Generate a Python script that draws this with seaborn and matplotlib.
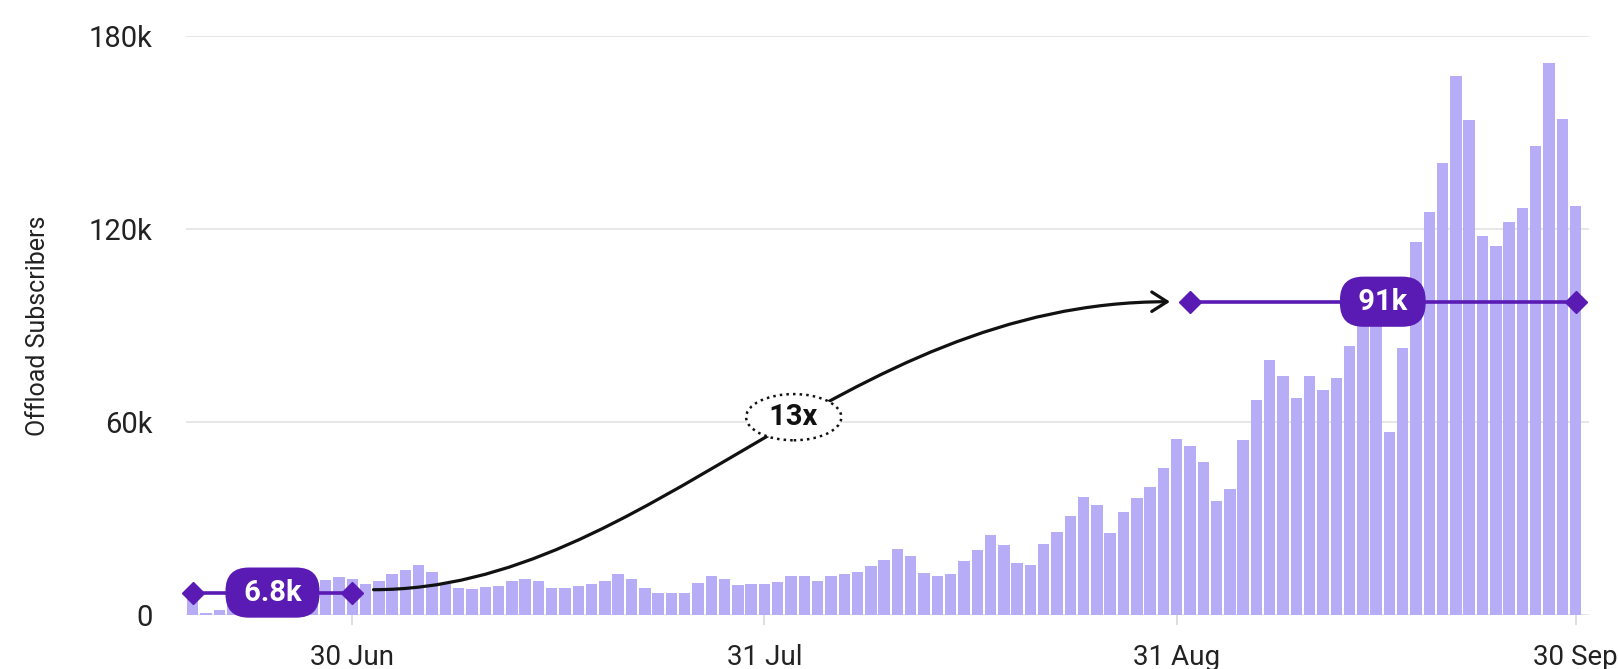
import numpy as np
import pandas as pd
import matplotlib.pyplot as plt
import seaborn as sns
from matplotlib.path import Path
from matplotlib.patches import FancyArrowPatch

# daily offload subscribers, 18 Jun -> 30 Sep (thousands)
start_day = '2024-06-18'
subs_k = [
    6.0, 0.7, 1.6, 3.0, 5.0, 6.0, 7.0, 8.0, 9.0, 10.5, 10.8, 11.8, 11.2,
    9.5, 10.6, 12.6, 14.0, 15.5, 13.5, 9.5, 8.5, 8.0, 8.8, 9.1, 10.5,
    11.2, 10.5, 8.4, 8.3, 8.9, 9.6, 10.7, 12.6, 11.2, 8.3, 6.7, 6.7,
    6.9, 9.8, 12.1, 11.1, 9.2, 9.6, 9.7, 10.4, 12.1, 12.2, 10.7, 12.1,
    12.8, 13.4, 15.1, 17.0, 20.4, 18.2, 13.2, 12.1, 12.8, 16.8, 20.2,
    24.8, 21.7, 16.3, 15.6, 22.0, 25.9, 30.9, 36.6, 34.3, 25.6, 32.0,
    36.4, 39.9, 45.6, 54.6, 52.4, 47.6, 35.5, 39.3, 54.4, 66.9, 79.3,
    74.4, 67.6, 74.4, 70.1, 73.8, 83.5, 90.0, 90.0, 56.9, 82.9, 116.0,
    125.2, 140.4, 167.7, 153.9, 117.8, 114.6, 122.3, 126.5, 145.7,
    171.7, 154.1, 127.0,
]
tick_labels = ['30 Jun', '31 Jul', '31 Aug', '30 Sep']
y_ticks = [0, 60000, 120000, 180000]
y_tick_labels = ['0', '60k', '120k', '180k']

# the two compared periods and their labels
low_span = ('18 Jun', '30 Jun')
high_span = ('01 Sep', '30 Sep')
low_label = '6.8k'
high_label = '91k'
growth_label = '13x'

BAR = '#b7acf6'
PURPLE = '#5a1ab4'
TEXT = '#222222'
GRID = '#e5e5e5'

dates = pd.date_range(start_day, periods=len(subs_k), freq='D')
day_names = list(dates.strftime('%d %b'))
df = pd.DataFrame({'day': np.arange(len(subs_k)), 'subs': np.array(subs_k) * 1000})

sns.set_theme(style='white')
plt.rcParams['font.family'] = ['Roboto', 'DejaVu Sans']

fig = plt.figure(figsize=(16.18, 6.69), dpi=100)
ax = fig.add_axes([0.115, 0.0807, 0.867, 0.8655])

sns.barplot(data=df, x='day', y='subs', color=BAR, saturation=1,
            width=0.86, edgecolor='none', ax=ax, zorder=2)

ax.set_xlim(-0.5, len(subs_k))
ax.set_ylim(0, 180000)
ax.set_yticks(y_ticks, y_tick_labels)
ax.set_xticks([day_names.index(t) for t in tick_labels], tick_labels)
ax.yaxis.grid(True, color=GRID, lw=1.3, zorder=0)
ax.xaxis.grid(False)
ax.set_axisbelow(True)
for s in ax.spines.values():
    s.set_visible(False)
ax.tick_params(axis='y', length=0, pad=24, labelsize=21, labelcolor=TEXT)
ax.tick_params(axis='x', bottom=True, length=7, width=1.2, color='#d9d9d9',
               pad=14, labelsize=20, labelcolor=TEXT)
ax.set_xlabel('')
ax.set_ylabel('Offload Subscribers', fontsize=18, color=TEXT)
ax.yaxis.set_label_coords(-0.097, 0.5)


def span_line(span, label):
    i0, i1 = day_names.index(span[0]), day_names.index(span[1])
    level = df['subs'].iloc[i0:i1 + 1].mean()
    ax.plot([i0, i1], [level, level], color=PURPLE, lw=2.6, marker='D',
            ms=11, zorder=6, clip_on=False)
    ax.text((i0 + i1) / 2, level, ' ' + label + ' ', ha='center', va='center',
            fontsize=21, fontweight='bold', color='white', zorder=7,
            bbox=dict(boxstyle='round,pad=0.38,rounding_size=0.8',
                      fc=PURPLE, ec='none'))
    return i0, i1, level


lo0, lo1, lo_level = span_line(low_span, low_label)
hi0, hi1, hi_level = span_line(high_span, high_label)

# S-shaped arrow from the low period to the high one
p0 = (lo1 + 1.6, lo_level + 900)
p3 = (hi0 - 1.5, hi_level)
verts = [p0, (34.3, p0[1]), (48.7, p3[1]), p3]
codes = [Path.MOVETO, Path.CURVE4, Path.CURVE4, Path.CURVE4]
arrow = FancyArrowPatch(path=Path(verts, codes),
                        arrowstyle='->,head_length=0.55,head_width=0.35',
                        mutation_scale=20, lw=2.3, color='#111111',
                        transform=ax.transData, zorder=5)
ax.add_patch(arrow)

ax.text(45.2, 61500, ' ' + growth_label + ' ', ha='center', va='center',
        fontsize=21, fontweight='bold', color='#111111', zorder=8,
        bbox=dict(boxstyle='ellipse,pad=0.08', fc='white', ec='#111111',
                  ls=':', lw=1.8))

fig.savefig('out.png', dpi=100)
